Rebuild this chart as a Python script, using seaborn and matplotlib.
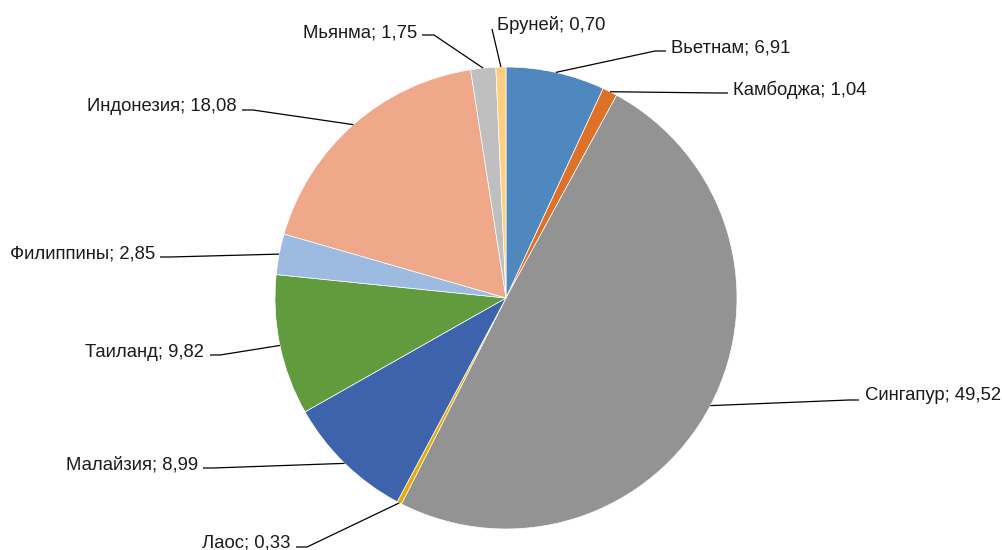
import matplotlib
matplotlib.use("Agg")
import matplotlib.pyplot as plt
import seaborn as sns
import numpy as np

countries = ["Вьетнам", "Камбоджа", "Сингапур", "Лаос", "Малайзия",
             "Таиланд", "Филиппины", "Индонезия", "Мьянма", "Бруней"]
values = [6.91, 1.04, 49.52, 0.33, 8.99, 9.82, 2.85, 18.08, 1.75, 0.70]
value_labels = ["6,91", "1,04", "49,52", "0,33", "8,99", "9,82", "2,85", "18,08", "1,75", "0,70"]

colors = ["#4F88BF", "#DE7028", "#939393", "#E8A900", "#3C63AC",
          "#629A3E", "#9DBBE1", "#F0A88A", "#BFBFBF", "#FDCF7F"]

sns.set_theme(style="white")
plt.rcParams['font.family'] = ['Liberation Sans', 'DejaVu Sans']

W, H = 1003, 550
CX, CY, R = 506, 298, 231

fig = plt.figure(figsize=(W / 100, H / 100), dpi=100)
ax = fig.add_axes([0, 0, 1, 1])
ax.axis('off')

palette = sns.color_palette(colors)
wedges, _ = ax.pie(values, colors=palette, startangle=90, counterclock=False,
                   radius=1, center=(0, 0),
                   wedgeprops=dict(edgecolor="white", linewidth=0.5))
ax.set_xlim(-CX / R, (W - CX) / R)
ax.set_ylim((CY - H) / R, CY / R)
ax.set_aspect('equal')


def p2d(px, py):
    return (px - CX) / R, (CY - py) / R


# label layout (pixels): text x, text baseline y, ha, line end x, line end y, elbow length
layout = [
    (671, 52, "left", 666, 51, -11),
    (733, 95, "left", 728, 93, -10),
    (865, 400, "left", 859, 400, -10),
    (290, 547, "right", 296, 547, 11),
    (198, 470, "right", 203, 468, 10),
    (204, 357, "right", 210, 355, 10),
    (155, 258, "right", 160, 257, 10),
    (237, 111, "right", 242, 110, 11),
    (417, 37, "right", 422, 35, 12),
    (497, 30, "left", 492, 29, 0),
]

for w, name, lab, (tx, ty, ha, lx, ly, el) in zip(wedges, countries, value_labels, layout):
    ang = np.deg2rad((w.theta1 + w.theta2) / 2)
    axp, ayp = np.cos(ang), np.sin(ang)
    x0, y0 = p2d(lx, ly)
    x1, y1 = p2d(lx + el, ly)
    ax.plot([x0, x1, axp], [y0, y1, ayp], color="black", lw=0.9,
            solid_capstyle="butt")
    txd, tyd = p2d(tx, ty)
    ax.text(txd, tyd, f"{name}; {lab}", ha=ha, va="baseline", fontsize=13.3,
            color="#1a1a1a")

fig.savefig("out.png", dpi=100)
